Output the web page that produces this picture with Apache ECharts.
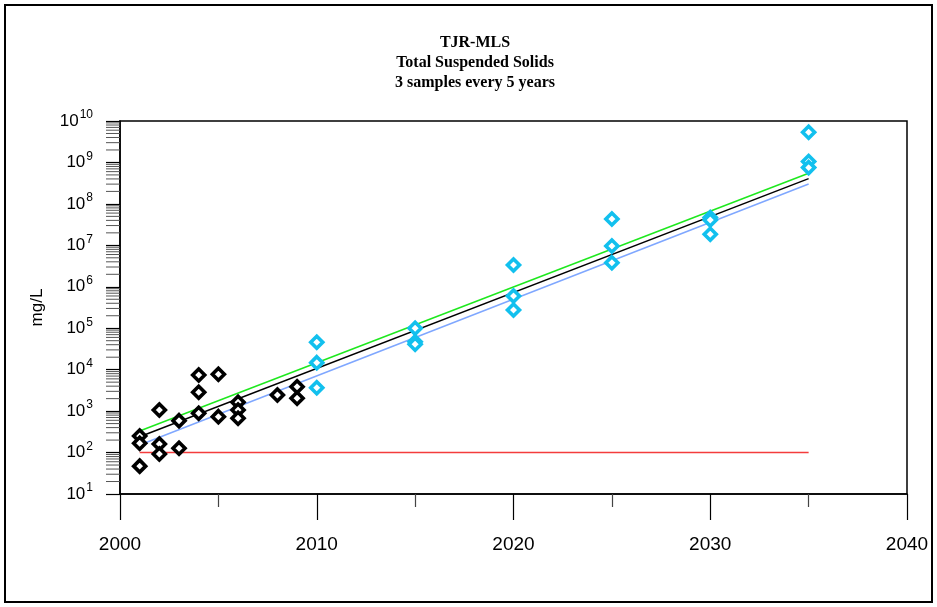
<!DOCTYPE html>
<html>
<head>
<meta charset="utf-8">
<script src="https://cdn.jsdelivr.net/npm/echarts@6/dist/echarts.min.js"></script>
<style>
html, body { margin: 0; padding: 0; background: #fff; }
#chart { width: 937px; height: 607px; }
</style>
</head>
<body>
<div id="chart"></div>
<script>
// Measured TSS samples (mg/L)
const histYears = [2001, 2001, 2001, 2002, 2002, 2002, 2003, 2003, 2004, 2004, 2004, 2005, 2005, 2006, 2006, 2006, 2008, 2009, 2009];
const histTSS   = [251, 167, 47, 1064, 161, 92, 588, 127, 7450, 2846, 885, 7740, 735, 1634, 1064, 671, 2449, 3882, 2037];

// Projected samples, 3 every 5 years
const projYears = [2010, 2010, 2010, 2015, 2015, 2015, 2020, 2020, 2020, 2025, 2025, 2025, 2030, 2030, 2030, 2035, 2035, 2035];
const projTSS   = [45800, 14760, 3670, 99500, 47000, 41000, 3.36e6, 6.0e5, 2.75e5, 4.33e7, 9.66e6, 3.82e6, 4.68e7, 4.1e7, 1.85e7, 5.35e9, 1.05e9, 7.5e8];

// Trend lines and limit (endpoints)
const trendYears = [2001, 2035];
const upperTrend = [331, 5.48e8];
const fitTrend   = [241, 4.06e8];
const lowerTrend = [152, 3.03e8];
const limitTSS   = [100, 100];

// Axes
const xMin = 2000, xMax = 2040, xStep = 10;
const yExpMin = 1, yExpMax = 10;
const minorMultipliers = [2, 3, 4, 5, 6, 7, 8, 9];
const titleLines = ['TJR-MLS', 'Total Suspended Solids', '3 samples every 5 years'];
const yAxisName = 'mg/L';

const zip = (xs, ys) => xs.map((x, i) => [x, ys[i]]);

// log-axis minor tick values (2..9 within each decade)
const minorTicks = [];
for (let e = yExpMin; e < yExpMax; e++) {
  minorMultipliers.forEach(m => minorTicks.push([xMin, m * Math.pow(10, e)]));
}

const chart = echarts.init(document.getElementById('chart'), null, { renderer: 'canvas' });

const diamond = (stroke) => ({
  type: 'scatter',
  symbol: 'diamond',
  symbolSize: 12,
  z: 5,
  itemStyle: { color: '#fff', borderColor: stroke, borderWidth: 3.6, opacity: 1 },
  emphasis: { disabled: true }
});

const trend = (data, color) => ({
  type: 'line',
  data: data,
  symbol: 'none',
  z: 3,
  lineStyle: { color: color, width: 1.5 },
  emphasis: { disabled: true }
});

chart.setOption({
  animation: false,
  backgroundColor: '#fff',
  title: {
    text: titleLines.join('\n'),
    left: 470,
    top: 28,
    textAlign: 'center',
    textStyle: {
      fontFamily: 'Liberation Serif',
      fontWeight: 'bold',
      fontSize: 16,
      lineHeight: 20,
      color: '#000'
    }
  },
  graphic: [{
    type: 'rect',
    shape: { x: 5, y: 5, width: 927, height: 597 },
    style: { fill: 'none', stroke: '#000', lineWidth: 2 },
    silent: true
  }],
  grid: {
    left: 120, right: 30, top: 121, bottom: 113,
    show: true, borderColor: '#000', borderWidth: 1.5, backgroundColor: 'transparent'
  },
  xAxis: {
    type: 'value',
    min: xMin, max: xMax, interval: xStep,
    axisLine: { lineStyle: { color: '#000', width: 1.5 } },
    axisTick: { show: true, inside: false, length: 26, lineStyle: { color: '#000', width: 1.2 } },
    minorTick: { show: true, splitNumber: 2, length: 13, lineStyle: { color: '#444', width: 1.2 } },
    splitLine: { show: false },
    axisLabel: {
      margin: 41,
      formatter: v => String(v),
      fontFamily: 'Liberation Sans',
      fontSize: 19,
      color: '#000'
    }
  },
  yAxis: {
    type: 'log',
    logBase: 10,
    min: Math.pow(10, yExpMin), max: Math.pow(10, yExpMax),
    interval: 1,
    name: yAxisName,
    nameLocation: 'middle',
    nameGap: 74,
    nameRotate: 90,
    nameTextStyle: { fontFamily: 'Liberation Sans', fontSize: 17, color: '#000' },
    axisLine: { lineStyle: { color: '#000', width: 1.5 } },
    axisTick: { show: true, inside: false, length: 14, lineStyle: { color: '#000', width: 1.2 } },
    splitLine: { show: false },
    axisLabel: {
      margin: 27,
      formatter: v => '{b|10}{s|' + Math.round(Math.log10(v)) + '}',
      rich: {
        b: { fontFamily: 'Liberation Sans', fontSize: 17, color: '#000' },
        s: { fontFamily: 'Liberation Sans', fontSize: 12, color: '#000', padding: [0, 0, 12, 1] }
      }
    }
  },
  series: [
    {
      type: 'custom',
      data: minorTicks,
      silent: true,
      z: 2,
      renderItem: (params, api) => {
        const p = api.coord([api.value(0), api.value(1)]);
        return {
          type: 'line',
          shape: { x1: p[0] - 14, y1: p[1], x2: p[0], y2: p[1] },
          style: { stroke: '#555', lineWidth: 1 }
        };
      }
    },
    trend(zip(trendYears, limitTSS), '#f43c3c'),
    trend(zip(trendYears, upperTrend), '#1ee81e'),
    trend(zip(trendYears, fitTrend), '#000'),
    trend(zip(trendYears, lowerTrend), '#7fa7ff'),
    Object.assign(diamond('#000'), { data: zip(histYears, histTSS) }),
    Object.assign(diamond('#12c0ee'), { data: zip(projYears, projTSS) })
  ]
});
</script>
</body>
</html>
